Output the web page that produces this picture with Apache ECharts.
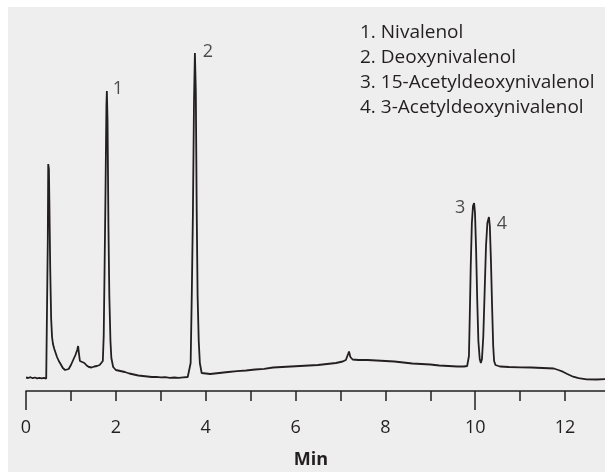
<!DOCTYPE html>
<html>
<head>
<meta charset="utf-8">
<script src="https://cdn.jsdelivr.net/npm/echarts@6/dist/echarts.min.js"></script>
<style>
  html, body { margin: 0; padding: 0; background: #ffffff; }
  #wrap { position: relative; width: 605px; height: 472px; overflow: hidden; }
  #bg { position: absolute; left: 8px; top: 7px; right: 0; bottom: 0; background: #eeeeee; }
  #chart { position: absolute; left: 0; top: 0; width: 605px; height: 472px; }
</style>
</head>
<body>
<div id="wrap">
  <div id="bg"></div>
  <div id="chart"></div>
</div>
<script>
// retention time (min) / detector response
var retentionTime = [
  0.00, 0.05, 0.10, 0.15, 0.20, 0.25, 0.30, 0.35, 0.40, 0.45,
  0.48, 0.485, 0.495, 0.51, 0.52, 0.54, 0.56, 0.58, 0.60, 0.63,
  0.66, 0.69, 0.73, 0.77, 0.82, 0.87, 0.91, 0.95, 1.00, 1.05,
  1.10, 1.14, 1.16, 1.18, 1.20, 1.24, 1.30, 1.35, 1.40, 1.46,
  1.52, 1.58, 1.64, 1.68, 1.71, 1.73, 1.75, 1.77, 1.79, 1.80,
  1.815, 1.835, 1.855, 1.88, 1.90, 1.94, 2.00, 2.10, 2.20, 2.30,
  2.40, 2.50, 2.60, 2.70, 2.80, 2.90, 3.00, 3.10, 3.20, 3.30,
  3.40, 3.50, 3.60, 3.64, 3.665, 3.69, 3.715, 3.74, 3.76, 3.78,
  3.80, 3.82, 3.845, 3.87, 3.91, 3.95, 4.10, 4.30, 4.50, 4.70,
  4.90, 5.10, 5.30, 5.50, 5.70, 5.90, 6.10, 6.30, 6.50, 6.70,
  6.90, 7.05, 7.12, 7.17, 7.19, 7.22, 7.27, 7.40, 7.60, 7.80,
  8.00, 8.20, 8.40, 8.60, 8.80, 9.00, 9.20, 9.40, 9.60, 9.75,
  9.82, 9.84, 9.86, 9.88, 9.90, 9.925, 9.95, 9.975, 9.995, 10.02,
  10.045, 10.07, 10.10, 10.125, 10.15, 10.18, 10.21, 10.24, 10.27, 10.305,
  10.325, 10.35, 10.375, 10.40, 10.42, 10.45, 10.55, 10.75, 11.00, 11.25,
  11.50, 11.75, 11.85, 11.95, 12.05, 12.18, 12.30, 12.48, 12.70, 12.90
];
var response = [
  13.5, 13.0, 13.8, 12.8, 13.5, 12.7, 13.2, 12.6, 13.1, 12.4,
  12.5, 150, 227, 222, 190, 120, 72, 54, 47, 42,
  38, 34, 30, 27, 23, 21, 20, 22, 26, 31,
  36, 41, 45, 37, 30, 28, 28, 25.5, 24, 23.5,
  24.5, 25, 26, 27, 30, 55, 125, 200, 285, 300,
  270, 165, 95, 50, 33, 24, 21, 20, 19, 17.5,
  16.5, 15.5, 15, 14.5, 14, 14.2, 13.6, 13.8, 13.2, 13.5,
  13.1, 13.6, 14, 15, 28, 95, 176, 290, 338, 300,
  180, 95, 50, 28, 18, 16, 17, 18, 19, 19.8,
  20.5, 21.5, 22.2, 23.5, 24, 24.5, 25, 25.5, 26, 27,
  28, 29.5, 31, 37, 39.5, 34, 31.5, 31, 31, 30.5,
  30, 29.5, 28.5, 27.5, 27, 26.5, 25.5, 25, 24.5, 24.5,
  25, 27, 35, 78, 125, 168, 185, 188, 178, 140,
  90, 50, 32, 28, 32, 55, 100, 145, 168, 174,
  165, 130, 85, 45, 30, 26, 24.5, 24, 23.7, 23.5,
  23, 22.5, 21, 19.3, 17, 14.3, 12.8, 11.7, 11.5, 11.8
];

// numbered peaks
var peakLabels = ['1', '2', '3', '4'];
var peakTimes = [1.80, 3.76, 9.975, 10.305];
var peakHeights = [300, 338, 188, 174];
var compoundNames = [
  '1. Nivalenol',
  '2. Deoxynivalenol',
  '3. 15-Acetyldeoxynivalenol',
  '4. 3-Acetyldeoxynivalenol'
];
var xMin = 0, xMax = 13, xStep = 1;
var axisTitle = 'Min';

var ink = '#231f20';
var fontName = '"Open Sans", "Noto Sans", sans-serif';
// label offsets (px) next to each peak apex
var labelOffsets = [[11, -2], [13, -1], [-14, 5], [13, 7]];

function buildTrace() {
  var pts = [];
  for (var i = 0; i < retentionTime.length; i++) {
    pts.push([retentionTime[i], response[i]]);
  }
  return pts;
}

function buildPeakMarks() {
  var marks = [];
  for (var i = 0; i < peakLabels.length; i++) {
    marks.push({
      value: [peakTimes[i], peakHeights[i]],
      label: { show: true, formatter: peakLabels[i], offset: labelOffsets[i] }
    });
  }
  return marks;
}

function buildLegendText() {
  var items = [];
  for (var i = 0; i < compoundNames.length; i++) {
    items.push({
      type: 'text',
      left: 360,
      top: 23.5 + i * 25,
      style: { text: compoundNames[i], font: '19px ' + fontName, fill: ink }
    });
  }
  return items;
}

var myChart = echarts.init(document.getElementById('chart'), null, { renderer: 'canvas' });

var option = {
  backgroundColor: 'transparent',
  animation: false,
  grid: { left: 26, right: -5, top: 31, bottom: 81, outerBoundsMode: 'none' },
  xAxis: [
    {
      type: 'value',
      position: 'bottom',
      min: xMin,
      max: xMax,
      interval: xStep,
      name: axisTitle,
      nameLocation: 'middle',
      nameGap: 60,
      nameTextStyle: { fontFamily: fontName, fontSize: 18, fontWeight: 'bold', color: ink, padding: [0, 14, 0, 0] },
      splitLine: { show: false },
      axisLine: { lineStyle: { color: ink, width: 1.5 } },
      axisTick: { length: 10, lineStyle: { color: ink, width: 1.5 } },
      axisLabel: {
        margin: 28,
        fontFamily: fontName,
        fontSize: 18,
        color: ink,
        formatter: function (v) { return v % 2 === 0 ? String(v) : ''; }
      }
    },
    {
      // longer ticks at 0 and 10
      type: 'value',
      position: 'bottom',
      min: xMin,
      max: xMax,
      interval: xStep,
      splitLine: { show: false },
      axisLine: { show: false },
      axisLabel: { show: false },
      axisTick: { customValues: [0, 10], length: 19, lineStyle: { color: ink, width: 1.5 } }
    }
  ],
  yAxis: {
    type: 'value',
    min: 0,
    max: 360,
    show: false
  },
  graphic: buildLegendText(),
  series: [
    {
      type: 'line',
      data: buildTrace(),
      showSymbol: false,
      symbol: 'none',
      smooth: false,
      lineStyle: { color: ink, width: 1.8 },
      z: 3
    },
    {
      type: 'scatter',
      data: buildPeakMarks(),
      symbolSize: 0,
      silent: true,
      label: {
        position: 'inside',
        fontFamily: fontName,
        fontSize: 18,
        color: ink
      },
      z: 4
    }
  ]
};
myChart.setOption(option);
</script>
</body>
</html>
